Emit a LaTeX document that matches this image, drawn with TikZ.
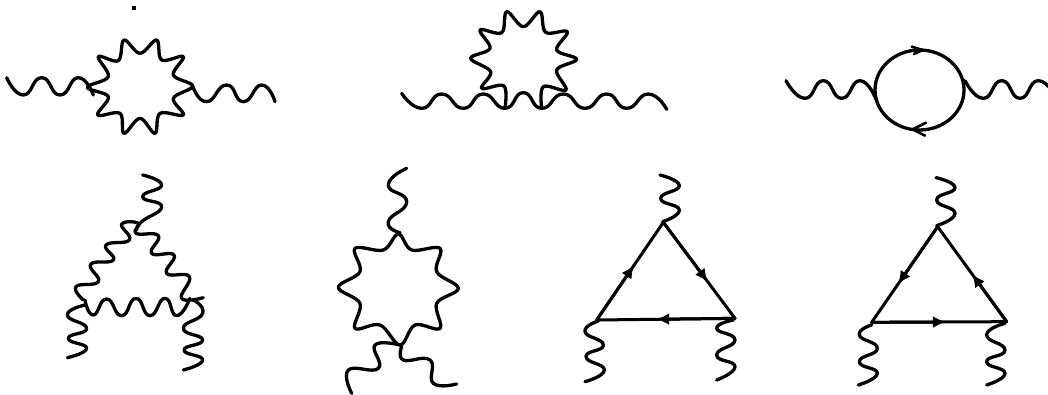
\documentclass[tikz,border=0pt]{standalone}
\usetikzlibrary{arrows.meta,calc}
\tikzset{
  ink/.style={line width=3.3pt,black,line join=round,line cap=round},
  thinink/.style={line width=3pt,black,line join=round,line cap=round},
  tip/.style={-{Latex[length=13pt,width=12pt]}},
  zoomed/.style={x=0.33333pt,y=-0.33333pt}
}
\newcommand{\wig}[1]{\draw[ink] plot[smooth,tension=0.95] coordinates {#1};}
\newcommand{\ring}[1]{\draw[ink] plot[smooth cycle,tension=0.6] coordinates {#1};}
\begin{document}
\begin{tikzpicture}[x=1pt,y=-1pt]
\useasboundingbox (0,0) rectangle (1048,394);
\clip (0,0) rectangle (1048,394);
\fill[white] (0,0) rectangle (1048,394);
\fill[black] (132,6) rectangle (136,10);
% top left
\begin{scope}[shift={(0,0)},zoomed]
\wig{(20,233)(70,285)(125,233)(180,285)(235,233)(280,285)}
\ring{(372,120)(420,160)(470,120)(485,180)(550,170)(520,225)(578,258)(520,295)(550,345)(480,340)(465,400)(420,355)(372,400)(360,340)(293,345)(325,290)(262,262)(325,230)(295,170)(355,182)}
\wig{(578,258)(620,305)(680,255)(730,305)(785,255)(825,305)}
\end{scope}
% top middle
\begin{scope}[shift={(380,0)},zoomed]
\wig{(65,280)(125,325)(185,282)(250,325)(310,282)(375,325)(430,278)(485,325)(550,282)(615,325)(680,282)(740,325)(805,282)(860,328)}
\draw[ink] plot[smooth,tension=0.6] coordinates {(375,325)(372,258)(305,265)(332,215)(272,175)(330,145)(300,90)(365,98)(380,35)(430,80)(480,35)(497,97)(562,95)(530,150)(590,178)(530,210)(558,270)(490,260)(485,325)};
\end{scope}
% top right
\begin{scope}[shift={(770,50)},zoomed]
\wig{(48,92)(105,145)(160,92)(215,145)(270,92)(318,148)}
\wig{(585,92)(640,145)(695,92)(750,145)(805,92)(860,145)}
\draw[ink] (448.5,120) ellipse [x radius=133.5,y radius=120];
\draw[ink,line width=2.6pt] (425,-10) -- (458,0) -- (432,12);
\draw[ink,line width=2.6pt] (468,218) -- (428,238) -- (465,257);
\end{scope}
% bottom left triangle
\begin{scope}[shift={(50,165)},zoomed]
\wig{(278,30)(335,60)(278,95)(335,125)(275,170)(260,195)}
\draw[ink] plot[smooth,tension=0.8] coordinates {(100,405)(78,365)(145,350)(122,298)(190,285)(168,240)(238,225)(215,178)(265,175)(258,205)(325,212)(305,265)(372,270)(350,325)(418,335)(395,400)(460,398)};
\wig{(105,405)(130,450)(170,402)(215,452)(258,400)(300,452)(345,400)(380,452)(420,400)}
\wig{(430,405)(458,445)(400,490)(458,525)(402,555)(458,585)(400,615)}
\wig{(105,420)(52,450)(110,490)(55,520)(110,550)(52,578)}
\end{scope}
% bottom middle star
\begin{scope}[shift={(320,160)},zoomed]
\wig{(260,25)(205,75)(260,125)(205,185)(240,218)}
\ring{(235,222)(275,270)(360,265)(350,335)(415,385)(350,430)(360,505)(285,495)(240,555)(180,495)(105,505)(120,430)(55,382)(120,335)(105,265)(190,270)}
\draw[ink] plot[smooth,tension=0.8] coordinates {(240,555)(165,555)(175,625)(85,630)(95,700)};
\draw[ink] plot[smooth,tension=0.8] coordinates {(245,560)(250,600)(330,600)(340,670)(410,672)};
\end{scope}
% fermion triangles
\begin{scope}[shift={(570,165)},zoomed]
\coordinate (a1) at (280,172);
\coordinate (b1) at (80,465);
\coordinate (c1) at (495,460);
\wig{(270,30)(328,62)(272,100)(328,135)(278,170)}
\wig{(85,468)(45,500)(100,540)(48,575)(103,615)(45,650)}
\wig{(490,465)(440,490)(495,525)(440,570)(495,605)(440,645)}
\draw[thinink] (a1) -- (b1) -- (c1) -- cycle;
\draw[tip,thinink] (b1) -- ($(b1)!0.56!(a1)$);
\draw[tip,thinink] (a1) -- ($(a1)!0.62!(c1)$);
\draw[tip,thinink] (c1) -- ($(c1)!0.57!(b1)$);
\coordinate (a2) at (1103,185);
\coordinate (b2) at (905,472);
\coordinate (c2) at (1310,470);
\wig{(1098,38)(1155,68)(1100,105)(1155,145)(1100,182)}
\wig{(905,480)(868,510)(922,550)(868,590)(922,625)(865,660)}
\wig{(1305,475)(1250,510)(1305,555)(1250,590)(1305,625)(1250,660)}
\draw[thinink] (a2) -- (b2) -- (c2) -- cycle;
\draw[tip,thinink] (a2) -- ($(a2)!0.6!(b2)$);
\draw[tip,thinink] (c2) -- ($(c2)!0.5!(a2)$);
\draw[tip,thinink] (b2) -- ($(b2)!0.55!(c2)$);
\end{scope}
\end{tikzpicture}
\end{document}
